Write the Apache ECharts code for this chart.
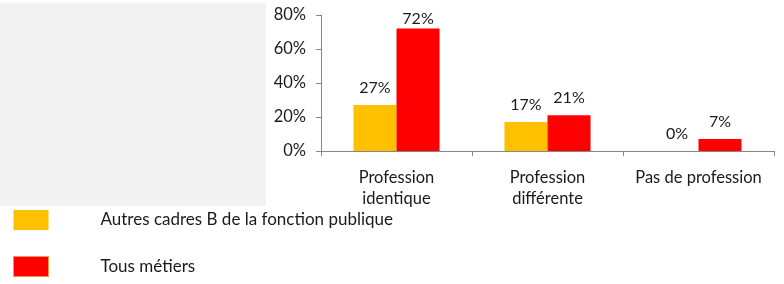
<!DOCTYPE html>
<html>
<head>
<meta charset="utf-8">
<script src="https://cdn.jsdelivr.net/npm/echarts@6/dist/echarts.min.js"></script>
<style>
  html, body { margin: 0; padding: 0; background: #fff; }
  #chart { width: 784px; height: 284px; }
</style>
</head>
<body>
<div id="chart"></div>
<script>
const categories = ['Profession\nidentique', 'Profession\ndifférente', 'Pas de profession'];
const seriesNames = ['Autres cadres B de la fonction publique', 'Tous métiers'];
const autresCadres = [27, 17, 0];
const tousMetiers = [72, 21, 7];
const yTicks = [0, 20, 40, 60, 80];

const chart = echarts.init(document.getElementById('chart'));

const labelStyle = {
  show: true,
  position: 'top',
  distance: 9,
  formatter: p => p.value + '%',
  color: '#1a1a1a',
  fontFamily: 'Lato',
  fontSize: 16
};

// the tallest label gets pushed down to stay inside the plot area, like Excel does
const yMax = yTicks[yTicks.length - 1];
const withClamp = arr => arr.map(v => v > yMax * 0.85 ? { value: v, label: { distance: 2 } } : v);

chart.setOption({
  animation: false,
  backgroundColor: '#fff',
  graphic: [{
    type: 'rect',
    left: 0, top: 3,
    shape: { width: 266, height: 203 },
    style: { fill: '#f2f2f2' },
    z: -1
  }],
  grid: { left: 321, right: 10, top: 15, bottom: 133 },
  legend: {
    orient: 'vertical',
    left: 13,
    top: 210,
    padding: 0,
    itemWidth: 35,
    itemHeight: 20,
    itemGap: 26,
    icon: 'rect',
    textStyle: {
      fontFamily: 'Lato',
      fontSize: 17,
      color: '#1a1a1a',
      padding: [2, 0, 0, 47]
    },
    data: [
      { name: seriesNames[0] },
      { name: seriesNames[1], itemStyle: { borderColor: '#f79646', borderWidth: 1 } }
    ]
  },
  xAxis: {
    type: 'category',
    data: categories,
    axisLine: { lineStyle: { color: '#868686' } },
    axisTick: { show: true, length: 5, lineStyle: { color: '#868686' } },
    axisLabel: {
      interval: 0,
      color: '#1a1a1a',
      fontFamily: 'Lato',
      fontSize: 16.5,
      lineHeight: 21,
      margin: 16
    }
  },
  yAxis: {
    type: 'value',
    min: 0,
    max: yMax,
    interval: 20,
    axisLine: { show: true, lineStyle: { color: '#868686' } },
    axisTick: { show: true, length: 5, lineStyle: { color: '#868686' } },
    splitLine: { show: false },
    axisLabel: {
      formatter: v => v + '%',
      color: '#1a1a1a',
      fontFamily: 'Lato',
      fontSize: 16.5,
      margin: 15
    }
  },
  series: [
    {
      name: seriesNames[0],
      type: 'bar',
      data: withClamp(autresCadres),
      barGap: '0%',
      barCategoryGap: '43%',
      itemStyle: { color: '#ffc000' },
      label: labelStyle
    },
    {
      name: seriesNames[1],
      type: 'bar',
      data: withClamp(tousMetiers),
      itemStyle: { color: '#ff0000' },
      label: labelStyle
    }
  ]
});
</script>
</body>
</html>
